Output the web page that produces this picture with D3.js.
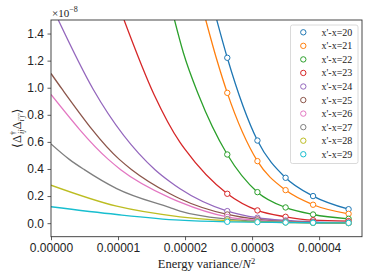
<!DOCTYPE html>
<html lang="en">
<head>
<meta charset="UTF-8" />
<title>Delta correlation vs energy variance</title>
<style>
  body { margin: 0; background: #fff; }
  svg { display: block; font-family: "Liberation Serif", "DejaVu Serif", serif; }
  .tick text { font-size: 12px; fill: #222; }
</style>
</head>
<body>
<svg width="374" height="280"></svg>
<script src="https://d3js.org/d3.v7.min.js"></script>
<script>
// x in units of 1e-5, y in units of 1e-8
const labels = ["x'-x=20", "x'-x=21", "x'-x=22", "x'-x=23", "x'-x=24",
                "x'-x=25", "x'-x=26", "x'-x=27", "x'-x=28", "x'-x=29"];
const colors = ["#1f77b4", "#ff7f0e", "#2ca02c", "#d62728", "#9467bd",
                "#8c564b", "#e377c2", "#7f7f7f", "#bcbd22", "#17becf"];

// measured points (open circles)
const markerX = [2.63, 3.08, 3.50, 3.91, 4.44];
const markerY = [
  [1.221, 0.610, 0.335, 0.200, 0.103],
  [0.962, 0.458, 0.244, 0.136, 0.069],
  [0.507, 0.229, 0.116, 0.064, 0.032],
  [0.217, 0.094, 0.047, 0.022, 0.015],
  [0.089, 0.040, 0.020, 0.010, 0.005],
  [0.064, 0.028, 0.013, 0.006, 0.003],
  [0.046, 0.020, 0.009, 0.004, 0.002],
  [0.030, 0.014, 0.007, 0.003, 0.001],
  [0.019, 0.010, 0.005, 0.002, 0.001],
  [0.010, 0.007, 0.005, 0.003, 0.002]
];

const fitX = [
  [2.473],
  [2.309, 2.473],
  [1.843, 1.975, 2.199],
  [1.090, 1.537, 1.925, 2.000],
  [0.109, 0.631, 1.552, 1.776, 1.925],
  [0, 0.169, 1.019, 1.204, 1.776, 1.925],
  [0, 0.855, 1.040, 1.776, 1.925],
  [0, 0.273, 0.497, 0.980, 1.776, 1.925],
  [0, 0.980, 1.925],
  [0, 0.980, 1.925]
];
const fitY = [
  [1.5],
  [1.5, 1.208],
  [1.5, 1.258, 0.950],
  [1.5, 0.950, 0.596, 0.544],
  [1.5, 0.987, 0.395, 0.306, 0.254],
  [1.105, 0.987, 0.471, 0.395, 0.217, 0.180],
  [0.950, 0.471, 0.395, 0.187, 0.155],
  [0.585, 0.471, 0.395, 0.255, 0.114, 0.089],
  [0.280, 0.125, 0.047],
  [0.121, 0.064, 0.022]
];

const xTicks = [0, 1, 2, 3, 4];
const yTicks = [0, 0.2, 0.4, 0.6, 0.8, 1.0, 1.2, 1.4];

const svg = d3.select("svg");
const pLeft = 51, pRight = 362, pTop = 20, pBottom = 236.7;

const x = d3.scaleLinear().domain([0, 4.64]).range([pLeft, pRight]);
const y = d3.scaleLinear().domain([-0.1, 1.5]).range([pBottom, pTop]);

svg.append("defs").append("clipPath").attr("id", "plot")
  .append("rect").attr("x", pLeft).attr("y", pTop)
  .attr("width", pRight - pLeft).attr("height", pBottom - pTop);

// axes
const xAxis = svg.append("g").attr("transform", `translate(0,${pBottom})`)
  .call(d3.axisBottom(x).tickValues(xTicks).tickSize(3.5).tickPadding(3)
    .tickFormat(d => (d * 1e-5).toFixed(5)));
const yAxis = svg.append("g").attr("transform", `translate(${pLeft},0)`)
  .call(d3.axisLeft(y).tickValues(yTicks).tickSize(3.5).tickPadding(3.5)
    .tickFormat(d3.format(".1f")));
[xAxis, yAxis].forEach(a => {
  a.select(".domain").remove();
  a.selectAll(".tick line").attr("stroke", "#333").attr("stroke-width", 0.8);
});

// curves
const line = d3.line().x(d => x(d[0])).y(d => y(d[1])).curve(d3.curveMonotoneX);
const plot = svg.append("g").attr("clip-path", "url(#plot)");

labels.forEach((lab, i) => {
  const pts = fitX[i].map((v, j) => [v, fitY[i][j]])
    .concat(markerX.map((v, j) => [v, markerY[i][j]]));
  plot.append("path").datum(pts)
    .attr("d", line)
    .attr("fill", "none")
    .attr("stroke", colors[i])
    .attr("stroke-width", 1.3);
});

labels.forEach((lab, i) => {
  plot.append("g").selectAll("circle")
    .data(markerX.map((v, j) => [v, markerY[i][j]]))
    .join("circle")
    .attr("cx", d => x(d[0]))
    .attr("cy", d => y(d[1]))
    .attr("r", 2.7)
    .attr("fill", "#fff")
    .attr("stroke", colors[i])
    .attr("stroke-width", 1);
});

// frame
svg.append("rect")
  .attr("x", pLeft).attr("y", pTop)
  .attr("width", pRight - pLeft).attr("height", pBottom - pTop)
  .attr("fill", "none").attr("stroke", "#333").attr("stroke-width", 0.9);

// offset text
const off = svg.append("text").attr("x", 52).attr("y", 17)
  .attr("font-size", 11).attr("fill", "#222");
off.append("tspan").text("×10");
off.append("tspan").attr("dy", -5).attr("font-size", 8).text("−8");

// x label
const xl = svg.append("text")
  .attr("x", (pLeft + pRight) / 2).attr("y", 268)
  .attr("text-anchor", "middle").attr("font-size", 12.5).attr("fill", "#222");
xl.append("tspan").text("Energy variance/");
xl.append("tspan").attr("font-style", "italic").text("N");
xl.append("tspan").attr("dy", -4.5).attr("font-size", 8.5).text("2");

// y label
const yl = svg.append("text")
  .attr("transform", `translate(21,${(pTop + pBottom) / 2}) rotate(-90)`)
  .attr("text-anchor", "middle").attr("font-size", 12.5).attr("fill", "#222");
yl.append("tspan").text("⟨Δ");
yl.append("tspan").attr("dy", -5).attr("font-size", 8).text("†");
yl.append("tspan").attr("dx", -3).attr("dy", 8).attr("font-size", 8)
  .attr("font-style", "italic").text("ij");
yl.append("tspan").attr("dy", -3).text("Δ");
yl.append("tspan").attr("dy", 3).attr("font-size", 8)
  .attr("font-style", "italic").text("i′j′");
yl.append("tspan").attr("dy", -3).text("⟩");

// legend
const leg = svg.append("g");
leg.append("rect")
  .attr("x", 290.5).attr("y", 25).attr("width", 67.5).attr("height", 138.5)
  .attr("rx", 2).attr("fill", "#fff").attr("fill-opacity", 0.85)
  .attr("stroke", "#d0d0d0").attr("stroke-width", 0.8);
labels.forEach((lab, i) => {
  const cy = 32.3 + i * 13.55;
  leg.append("circle").attr("cx", 303.3).attr("cy", cy).attr("r", 2.7)
    .attr("fill", "#fff").attr("stroke", colors[i]).attr("stroke-width", 1);
  leg.append("text").attr("x", 321.5).attr("y", cy)
    .attr("dominant-baseline", "central")
    .attr("font-size", 10).attr("fill", "#222").text(lab);
});
</script>
</body>
</html>
